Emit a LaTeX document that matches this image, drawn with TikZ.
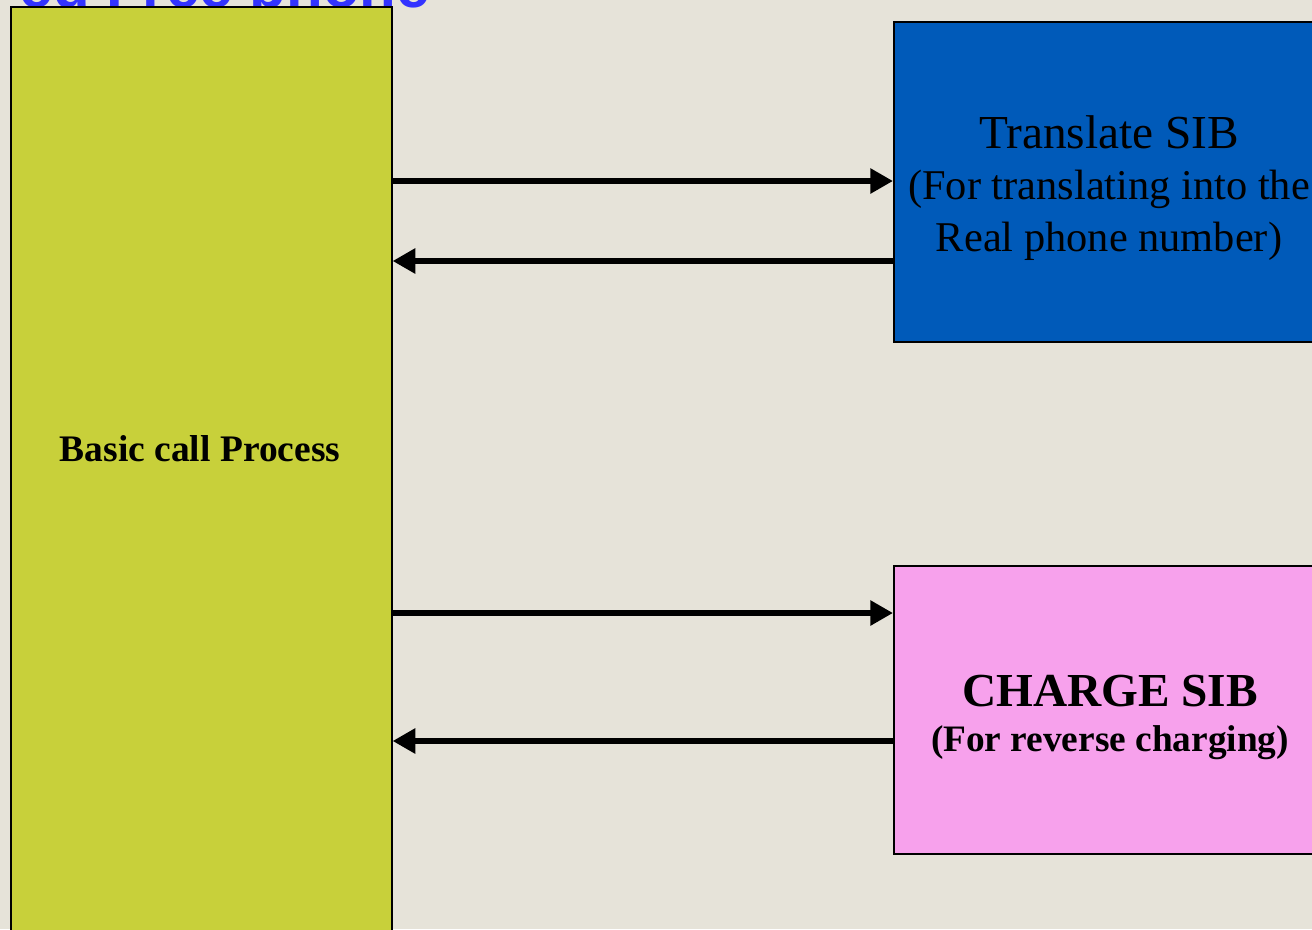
\documentclass[tikz,border=0pt]{standalone}
\usepackage{fontspec}
\setmainfont{Liberation Serif}
\newfontfamily\titlefont{Liberation Sans}
\usetikzlibrary{arrows.meta}
\definecolor{bgc}{HTML}{E6E3D9}
\definecolor{greenbox}{HTML}{C8D03A}
\definecolor{bluebox}{HTML}{005AB9}
\definecolor{pinkbox}{HTML}{F7A1EC}
\definecolor{titleblue}{HTML}{3333FF}
\tikzset{
  box/.style={draw=black, line width=1.2pt, anchor=north west, inner sep=0pt},
  arr/.style={line width=5pt, -{Triangle[length=17pt,width=18pt]}},
  txt/.style={inner sep=0pt, anchor=base},
}
\begin{document}
\begin{tikzpicture}[x=0.75pt,y=-0.75pt]
\useasboundingbox (0,0) rectangle (1312,929);
\fill[bgc] (0,0) rectangle (1312,929);
% cut-off title
\node[anchor=base east, inner sep=0pt, text=titleblue,
      font=\titlefont\bfseries\fontsize{45}{50}\selectfont] (title) at (430,7) {ed Free phone};
% boxes
\node[box, fill=greenbox, minimum width=285.75pt, minimum height=705pt] (bcp) at (10,6) {};
\node[box, fill=bluebox, minimum width=330pt, minimum height=240pt] (tsib) at (893,21) {};
\node[box, fill=pinkbox, minimum width=330pt, minimum height=216pt] (csib) at (893,565) {};
% texts
\node[txt, font=\bfseries\fontsize{28.1}{32}\selectfont] (bcptext) at (200,461) {Basic call Process};
\node[txt, font=\fontsize{35.5}{40}\selectfont] (t1) at (1109,148) {Translate SIB};
\node[txt, font=\fontsize{31.8}{36}\selectfont] (t2) at (1109,199) {(For translating into the};
\node[txt, font=\fontsize{31.8}{36}\selectfont] (t3) at (1109,251) {Real phone number)};
\node[txt, font=\bfseries\fontsize{35.5}{40}\selectfont] (c1) at (1110,706) {CHARGE SIB};
\node[txt, font=\bfseries\fontsize{28}{32}\selectfont] (c2) at (1110,751) {(For reverse charging)};
% arrows
\coordinate (y1) at (0,181);
\coordinate (y2) at (0,261);
\coordinate (y3) at (0,613);
\coordinate (y4) at (0,741);
\draw[arr] (bcp.east |- y1) -- (tsib.west |- y1);
\draw[arr] (tsib.west |- y2) -- (bcp.east |- y2);
\draw[arr] (bcp.east |- y3) -- (csib.west |- y3);
\draw[arr] (csib.west |- y4) -- (bcp.east |- y4);
\end{tikzpicture}
\end{document}
